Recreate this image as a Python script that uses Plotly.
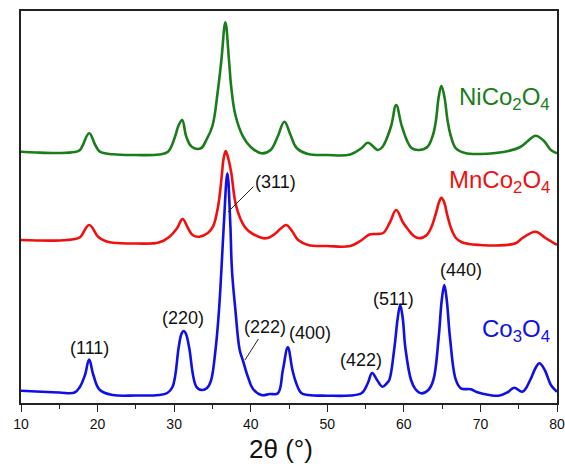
import plotly.graph_objects as go

# ---- data (2-theta in degrees, intensity in a.u. above each pattern's own baseline)
co3o4_2theta = [10, 12, 15, 17, 17.7, 18.35, 18.9, 19.45, 20.3, 22, 25, 28, 29.1, 29.8, 30.6, 30.95, 31.25,
                31.55, 31.95, 32.9, 33.6, 34.3, 34.8, 35.4, 35.86, 36.17, 36.5, 36.95, 37.33, 37.55, 38.0,
                38.56, 39.0, 39.64, 40.3, 41.4, 42.5, 43.55, 44.2, 44.85, 45.45, 45.95, 46.6, 47.5, 50, 53,
                54.5, 55.3, 55.85, 56.5, 57.2, 57.8, 58.1, 58.76, 59.2, 59.52, 59.85, 60.2, 60.94, 61.5, 62.25,
                63.2, 63.85, 64.54, 64.95, 65.28, 65.6, 66.03, 66.8, 67.45, 68.75, 69.5, 71.15, 72.5, 73.6,
                74.4, 75.5, 76.5, 77.2, 77.7, 78.4, 79.2, 80]
co3o4_int = [5.3, 4.5, 3.5, 3.5, 9.3, 21, 36.5, 21, 6, 1, 0.5, 1, 3, 9.3, 49, 62, 65,
             62, 49, 9.3, 6, 8, 15, 46, 86, 126, 173, 222.7, 173, 126, 86,
             46, 35, 19, 7, 1, 2, 2.7, 26, 48.7, 26, 12.7, 3, 1, 0.3, 0.5,
             3, 13, 23, 16, 9.3, 13, 16, 48, 78, 91, 78, 48, 16, 7, 2.7,
             6, 16, 58, 96, 111, 96, 58, 16, 7.7, 6.7, 4, 1, 0.5, 4,
             8.3, 4.3, 16, 28, 32.7, 26, 11, 4.3]

mnco2o4_2theta = [10, 12, 15, 17, 17.7, 18.9, 20.1, 21, 22, 25, 28, 29.4, 30.4, 31.1, 31.8, 32.4, 33.3,
                  34.4, 35.07, 35.73, 36.25, 36.43, 36.73, 37.12, 37.47, 38.12, 39.2, 40.3, 42.0, 43.3, 44.0,
                  44.64, 45.3, 46.2, 47.5, 50, 53, 54.5, 55.5, 56.5, 57.3, 58.2, 59.0, 59.85, 60.6, 61.3,
                  62.0, 63.0, 63.6, 64.2, 64.6, 64.9, 65.25, 65.7, 66.2, 66.8, 67.5, 68.5, 70, 72, 74.6,
                  75.5, 77.2, 78.5, 80]
mnco2o4_int = [6, 5.5, 5.5, 7, 8.7, 21, 9, 5, 3.3, 2.5, 3.5, 9.3, 18, 27, 18, 11, 9.3,
               13, 19.3, 39.3, 72.7, 86, 95, 86, 72.7, 39.3, 19.3, 12, 7.7, 13, 18,
               21, 16, 6, 1, 0, 0, 6, 11.5, 12, 13, 24, 36, 24, 16, 10,
               7.7, 11, 19, 33, 44, 48.3, 44, 30, 17, 8, 4, 2, 1, 0.5, 2.7,
               8, 14.3, 8, 1]

nico2o4_2theta = [10, 12, 15, 17, 17.7, 18.9, 19.7, 20.3, 22, 25, 28, 29.2, 30.1, 30.6, 31.05, 31.6, 32.3,
                  33.5, 34.2, 35.0, 35.7, 36.17, 36.69, 37.16, 37.47, 38.0, 39.0, 40.0, 41.4, 42.6, 43.5,
                  44.4, 45.2, 46.0, 47.5, 50, 53, 54.5, 55.3, 56.6, 57.2, 58.3, 59.0, 59.77, 61.0, 62.0,
                  63.1, 63.8, 64.2, 64.55, 64.9, 65.3, 65.7, 66.1, 66.8, 68, 70, 72, 73.8, 75.2, 76.2,
                  77.2, 78.3, 79.2, 80]
nico2o4_int = [3.3, 2.5, 2, 3, 5, 21.7, 10, 3.3, 0.7, 0, 0.5, 3.3, 18, 30, 35, 18, 8.3,
               6.7, 15, 29, 64, 95, 132.7, 95, 67, 40, 18.3, 8, 1.7, 5, 18,
               33.3, 20, 7, 1, 0, 0.5, 7, 12.3, 5, 8, 28, 50, 28, 7, 5,
               8.3, 20, 35, 58, 69, 58, 35, 20, 6.7, 2, 1, 2, 4.3, 8, 14,
               19.3, 14, 5, 1.7]

patterns = ["Co3O4", "MnCo2O4", "NiCo2O4"]
pattern_labels = ["Co<sub>3</sub>O<sub>4</sub>", "MnCo<sub>2</sub>O<sub>4</sub>", "NiCo<sub>2</sub>O<sub>4</sub>"]
hkl_labels = ["(111)", "(220)", "(311)", "(222)", "(400)", "(422)", "(511)", "(440)"]
x_ticks = [10, 20, 30, 40, 50, 60, 70, 80]
x_title = "2θ (°)"

# ---- styling / stacking
offsets = {"Co3O4": 7, "MnCo2O4": 157, "NiCo2O4": 248}
colors = {"Co3O4": "#1010e6", "MnCo2O4": "#f01010", "NiCo2O4": "#1a7d1a"}
series = {"Co3O4": (co3o4_2theta, co3o4_int),
          "MnCo2O4": (mnco2o4_2theta, mnco2o4_int),
          "NiCo2O4": (nico2o4_2theta, nico2o4_int)}

fig = go.Figure()
for name in patterns:
    xs, ys = series[name]
    fig.add_trace(go.Scatter(x=xs, y=[v + offsets[name] for v in ys], mode="lines",
                             line=dict(color=colors[name], width=2.6, shape="spline", smoothing=1.1),
                             name=name, showlegend=False))

FONT = "Liberation Sans, Arial, sans-serif"

# series names
label_pos = {"NiCo2O4": (79.4, 305), "MnCo2O4": (79.4, 222), "Co3O4": (79.4, 73)}
for name, lab in zip(patterns, pattern_labels):
    x, y = label_pos[name]
    fig.add_annotation(x=x, y=y, xref="x", yref="y", text=lab, showarrow=False,
                       xanchor="right", yanchor="middle",
                       font=dict(family=FONT, size=24, color=colors[name]))

# hkl labels
hkl_pos = [(19.0, 55), (31.2, 85), (43.3, 221), (41.9, 76), (47.8, 70), (54.4, 43), (58.6, 104), (67.5, 133)]
for lab, (x, y) in zip(hkl_labels, hkl_pos):
    fig.add_annotation(x=x, y=y, xref="x", yref="y", text=lab, showarrow=False,
                       xanchor="center", yanchor="middle",
                       font=dict(family=FONT, size=18, color="#111111"))

# leader lines
for (x0, y0, x1, y1) in [(37.07, 191.3, 40.34, 216.3), (39.25, 43, 41.0, 64)]:
    fig.add_shape(type="line", x0=x0, y0=y0, x1=x1, y1=y1, xref="x", yref="y",
                  line=dict(color="#222222", width=1))

# x-axis title (slightly left of centre, as in the original)
fig.add_annotation(x=0.486, y=-0.118, xref="paper", yref="paper", text=x_title, showarrow=False,
                   xanchor="center", yanchor="middle",
                   font=dict(family=FONT, size=26, color="#111111"))

fig.update_layout(
    width=565, height=464,
    margin=dict(l=21, r=8, t=11, b=61, autoexpand=False),
    paper_bgcolor="white", plot_bgcolor="white",
    font=dict(family=FONT, color="#111111"),
    xaxis=dict(range=[10, 80], tickvals=x_ticks, ticks="outside", ticklen=7, tickwidth=1.2,
               tickcolor="#222", showline=True, linecolor="#222", linewidth=1.5, mirror=True,
               showgrid=False, zeroline=False, tickfont=dict(size=14, color="#111"), automargin=False,
               minor=dict(dtick=5, tick0=10, ticks="outside", ticklen=4, tickcolor="#222", showgrid=False)),
    yaxis=dict(range=[0, 392], showticklabels=False, ticks="", showline=True, linecolor="#222",
               linewidth=1.5, mirror=True, showgrid=False, zeroline=False, automargin=False),
)

fig.write_html("out.html", config={"displayModeBar": False},
               post_script=("document.documentElement.style.overflow='hidden';"
                            "document.body.style.overflow='hidden';"
                            "document.body.style.margin='0';document.body.style.padding='0';"))
